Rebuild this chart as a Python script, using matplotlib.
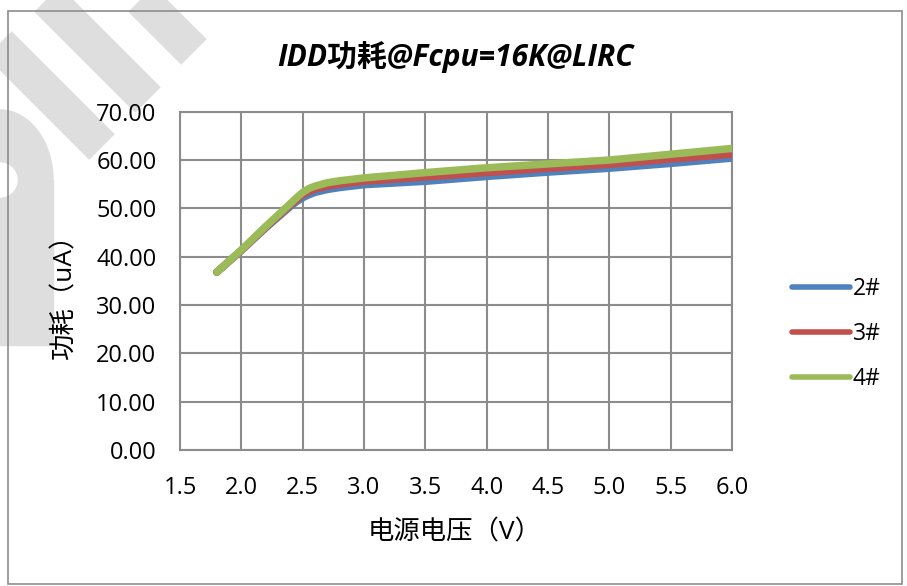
import numpy as np
import matplotlib
matplotlib.use("Agg")
import matplotlib.pyplot as plt
from matplotlib.patches import Rectangle, Circle, Ellipse

plt.rcParams['font.family'] = ['Open Sans', 'Noto Sans CJK SC', 'DejaVu Sans']

# ====== Data ======
voltage = [1.8, 2.0, 2.2, 2.4, 2.45, 2.5, 2.55, 2.6, 2.7, 2.8, 3.0, 3.5, 4.0, 4.5, 5.0, 5.5, 6.0]
idd_2 = [36.8, 41.3, 46.0, 50.4, 51.4, 52.2, 52.8, 53.3, 53.9, 54.3, 54.9, 55.6, 56.6, 57.5, 58.3, 59.3, 60.4]
idd_3 = [36.8, 41.3, 46.1, 50.7, 51.8, 52.8, 53.5, 54.0, 54.6, 55.0, 55.6, 56.5, 57.4, 58.3, 59.1, 60.2, 61.2]
idd_4 = [36.8, 41.4, 46.3, 51.0, 52.2, 53.3, 54.1, 54.6, 55.3, 55.7, 56.3, 57.4, 58.4, 59.2, 60.0, 61.2, 62.4]
series_labels = ["2#", "3#", "4#"]
series_colors = ["#4F81BD", "#C0504D", "#9BBB59"]

x_ticks = [1.5, 2.0, 2.5, 3.0, 3.5, 4.0, 4.5, 5.0, 5.5, 6.0]
y_ticks = [0, 10, 20, 30, 40, 50, 60, 70]

W, H = 907, 586
fig = plt.figure(figsize=(W / 100, H / 100), dpi=100)

# ====== background layer: chart border + faint watermark ======
bg = fig.add_axes([0, 0, 1, 1], zorder=0)
bg.set_xlim(0, W)
bg.set_ylim(H, 0)
bg.axis("off")
wm = "#dedede"
d = np.array([1, 1]) / np.sqrt(2)
for cx, cy in [(194, 52), (148, 100), (102, 147)]:
    end = np.array([cx, cy])
    start = end - d * 300
    bg.plot([start[0], end[0]], [start[1], end[1]], color=wm, lw=26,
            solid_capstyle="butt", zorder=1)
bg.add_patch(Ellipse((0, 180), 106, 140, color=wm, zorder=1))
bg.add_patch(Rectangle((0, 180), 53, 165, color=wm, zorder=1))
bg.add_patch(Circle((0, 180), 17, color="white", zorder=1.5))
bg.add_patch(Rectangle((7.5, 10.5), 894, 573, fill=False, edgecolor="#8c8c8c",
                       lw=1.2, zorder=2))

# ====== main plot ======
ax = fig.add_axes([180 / W, 1 - 450 / H, (732 - 180) / W, (450 - 111.7) / H], zorder=2)
ax.set_facecolor("white")
for y_vals, lab, col in zip([idd_2, idd_3, idd_4], series_labels, series_colors):
    ax.plot(voltage, y_vals, color=col, lw=5.4, label=lab,
            solid_capstyle="round", solid_joinstyle="round", zorder=3)

ax.set_xlim(1.5, 6.0)
ax.set_ylim(0, 70)
ax.set_xticks(x_ticks)
ax.set_yticks(y_ticks)
ax.set_xticklabels([f"{v:.1f}" for v in x_ticks])
ax.set_yticklabels([f"{v:.2f}" for v in y_ticks])
ax.grid(True, color="#8c8c8c", lw=1.5)
ax.set_axisbelow(True)
for s in ax.spines.values():
    s.set_color("#8c8c8c")
    s.set_linewidth(1.5)
ax.tick_params(length=0, labelsize=17)
ax.tick_params(axis="y", pad=17)
ax.tick_params(axis="x", pad=19)

fig.text(455.5 / W, 1 - 57 / H, "IDD功耗@Fcpu=16K@LIRC", ha="center", va="center",
         fontsize=21.5, fontweight="bold", fontstyle="italic")
fig.text(65 / W, 1 - 290 / H, "功耗（uA）", ha="center", va="center",
         rotation=90, fontsize=19)
fig.text(455 / W, 1 - 533 / H, "电源电压（V）", ha="center", va="center", fontsize=19)

leg = fig.legend(loc="center left", bbox_to_anchor=(781 / W, 1 - 334 / H),
                 frameon=False, fontsize=16.5, handlelength=2.5, handletextpad=0.12,
                 labelspacing=0.9, borderpad=0)
for line in leg.get_lines():
    line.set_linewidth(4)
    line.set_solid_capstyle("round")

fig.savefig("out.png", dpi=100, facecolor="white")
